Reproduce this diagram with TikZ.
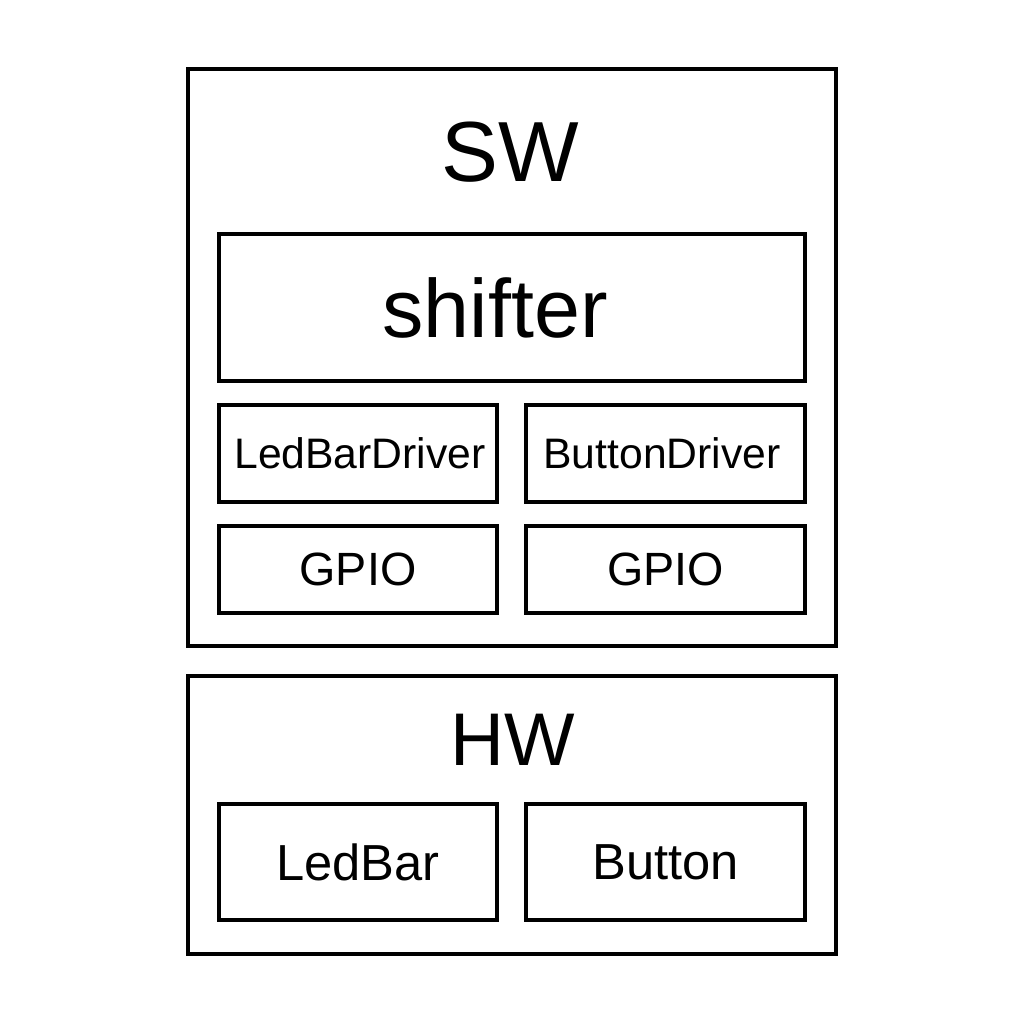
\documentclass[tikz,border=0pt]{standalone}
\usepackage{fontspec}
\setmainfont{Liberation Sans}
\begin{document}
\begin{tikzpicture}[x=0.75pt,y=-0.75pt,
  box/.style={draw=black,line width=2.9pt,rectangle,inner sep=0pt},
  lbl/.style={inner sep=0pt,text=black}]
\useasboundingbox (0,0) rectangle (1024,1024);
% outer containers
\node[box,minimum width=486pt,minimum height=432.75pt] (sw) at (512,357.5) {};
\node[box,minimum width=486pt,minimum height=208.5pt] (hw) at (512,815) {};
\node[lbl,font=\fontsize{64}{70}\selectfont] (swt) at (510,152) {SW};
\node[lbl,font=\fontsize{56}{62}\selectfont] (hwt) at (513,740) {HW};
% SW inner boxes
\node[box,minimum width=439.5pt,minimum height=110.25pt] (shifter) at (512,307.5) {};
\node[lbl,font=\fontsize{62}{68}\selectfont] (shiftert) at (495,308) {shifter};
\node[box,minimum width=208.5pt,minimum height=72.75pt] (lbd) at (358,453.5) {};
\node[lbl,font=\fontsize{32}{36}\selectfont] (lbdt) at (360,453.5) {LedBarDriver};
\node[box,minimum width=209.25pt,minimum height=72.75pt] (bd) at (665.5,453.5) {};
\node[lbl,font=\fontsize{32}{36}\selectfont] (bdt) at (662,453.5) {ButtonDriver};
\node[box,minimum width=208.5pt,minimum height=65.25pt,font=\fontsize{35}{40}\selectfont] (gpio1) at (358,569.5) {GPIO};
\node[box,minimum width=209.25pt,minimum height=65.25pt,font=\fontsize{35}{40}\selectfont] (gpio2) at (665.5,569.5) {GPIO};
% HW inner boxes
\node[box,minimum width=208.5pt,minimum height=87pt,font=\fontsize{38}{44}\selectfont] (ledbar) at (358,862) {LedBar};
\node[box,minimum width=209.25pt,minimum height=87pt,font=\fontsize{38}{44}\selectfont] (button) at (665.5,862) {Button};
\end{tikzpicture}
\end{document}
